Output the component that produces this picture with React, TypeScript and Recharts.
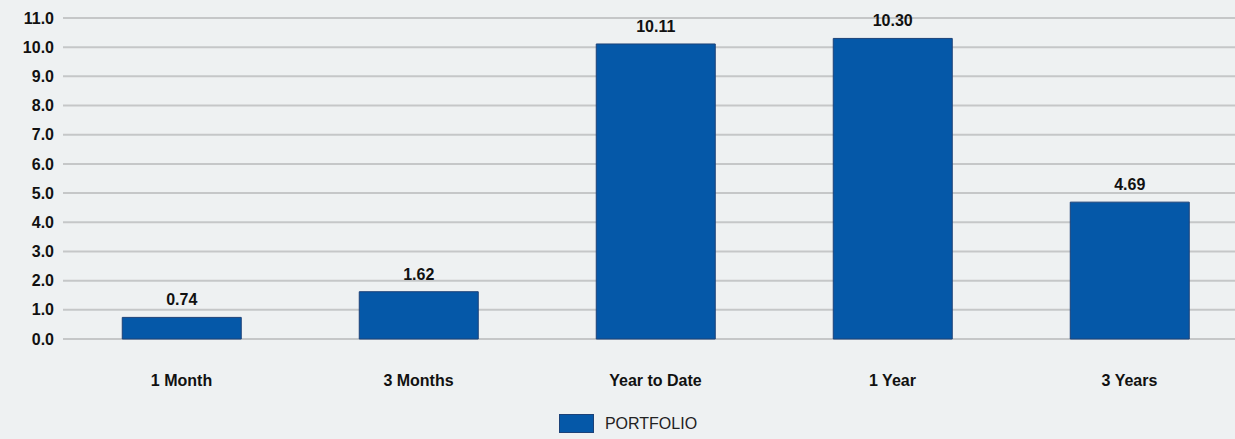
import React from "react";
import { BarChart, Bar, XAxis, YAxis, CartesianGrid, Legend, LabelList } from "recharts";

const categories = ["1 Month", "3 Months", "Year to Date", "1 Year", "3 Years"];
const portfolio = [0.74, 1.62, 10.11, 10.3, 4.69];
const yTicks = [0, 1, 2, 3, 4, 5, 6, 7, 8, 9, 10, 11];
const seriesName = "PORTFOLIO";

const data = categories.map((c, i) => ({ name: c, value: portfolio[i] }));

const FONT = "'Liberation Sans', Arial, sans-serif";

const LegendContent = () => (
  <div style={{ display: "flex", justifyContent: "center", alignItems: "center", paddingTop: 15, paddingLeft: 8, fontFamily: FONT }}>
    <span style={{ display: "inline-block", boxSizing: "border-box", width: 35, height: 19, background: "#0558a8", border: "1px solid #1c4278", marginRight: 11 }} />
    <span style={{ fontSize: 16, color: "#222", lineHeight: "19px" }}>{seriesName}</span>
  </div>
);

export default function App() {
  return (
    <div style={{ position: "absolute", left: 0, top: 0, width: 1235, height: 439, background: "#eef1f2", overflow: "hidden" }}>
      <BarChart width={1248} height={439} data={data} margin={{ top: 18, right: 0, left: 0, bottom: 0 }} barCategoryGap="25%">
        <CartesianGrid vertical={false} stroke="#c5c7c8" strokeWidth={2} />
        <XAxis
          dataKey="name"
          axisLine={false}
          tickLine={false}
          tickMargin={30}
          height={60}
          interval={0}
          tick={{ fill: "#111", fontSize: 16, fontWeight: "bold", fontFamily: FONT }}
        />
        <YAxis
          width={63}
          domain={[0, 11]}
          ticks={yTicks}
          interval={0}
          axisLine={false}
          tickLine={false}
          tickMargin={3}
          tickFormatter={(v: number) => v.toFixed(1)}
          tick={{ fill: "#111", fontSize: 16, fontWeight: "bold", fontFamily: FONT }}
        />
        <Legend verticalAlign="bottom" height={40} content={<LegendContent />} />
        <Bar dataKey="value" name={seriesName} fill="#0558a8" stroke="#1c4278" strokeWidth={1} isAnimationActive={false}>
          <LabelList
            dataKey="value"
            position="top"
            offset={12}
            formatter={(v: number) => v.toFixed(2)}
            style={{ fill: "#111", fontSize: 16, fontWeight: "bold", fontFamily: FONT }}
          />
        </Bar>
      </BarChart>
    </div>
  );
}
